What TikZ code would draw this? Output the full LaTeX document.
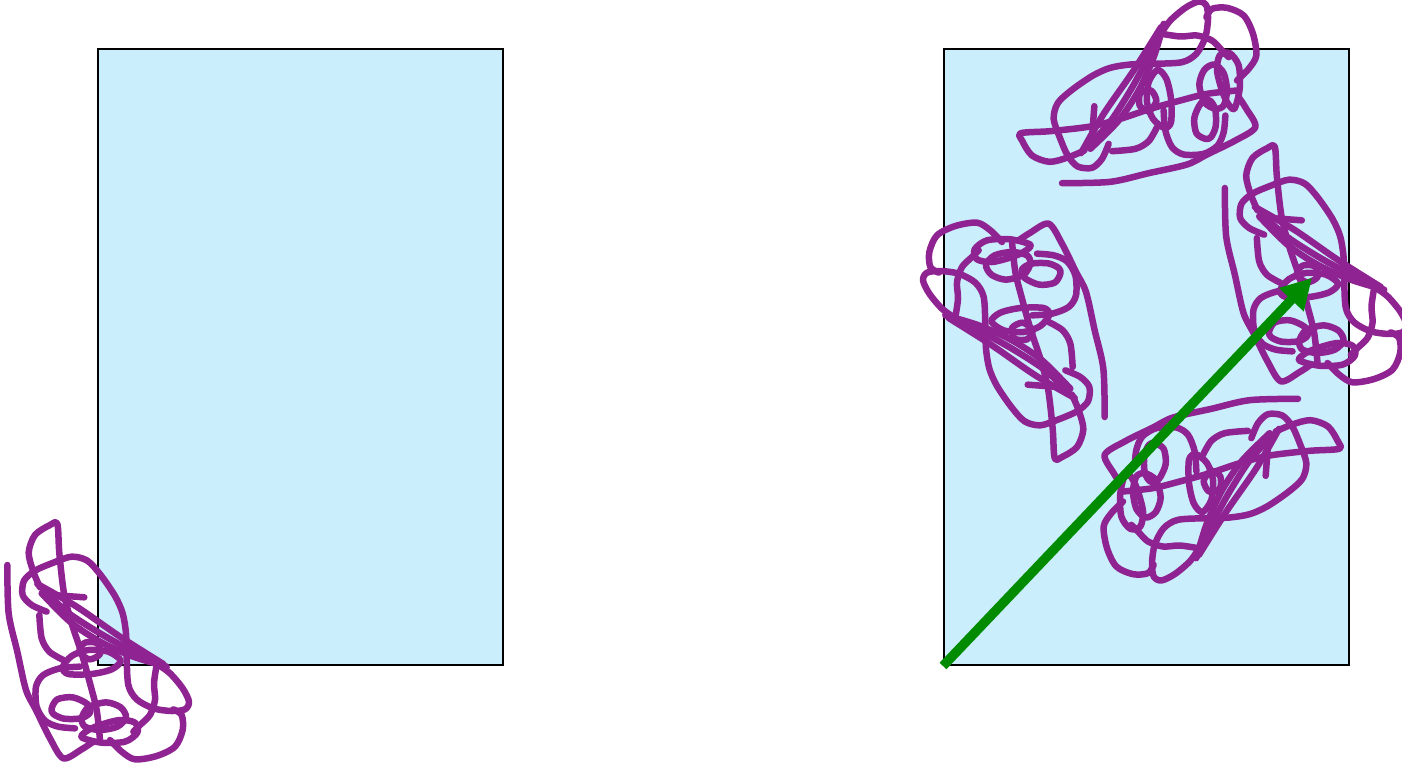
\documentclass[tikz,border=0pt]{standalone}
\usetikzlibrary{arrows.meta}
\definecolor{boxblue}{RGB}{203,238,252}
\definecolor{scribblecol}{RGB}{142,35,145}
\definecolor{arrowgreen}{RGB}{0,139,0}
\tikzset{
  panel/.style={draw=black, line width=2pt, fill=boxblue, rectangle, inner sep=0pt,
    minimum width=405pt, minimum height=616pt, anchor=north west},
  scribline/.style={draw=scribblecol, line width=6.5pt, line cap=round, line join=round},
  vec/.style={draw=arrowgreen, line width=9.5pt, -{Triangle[length=30pt,width=32pt]}},
}
\newcommand{\scribbleat}[3]{%
  \begin{scope}[shift={(#1,#2)}, rotate=#3]
  \begin{scope}[shift={(-98.5pt,130pt)}, x=0.33333pt, y=-0.33333pt]
    \draw[scribline] plot[smooth] coordinates {(22,165) (26,310) (52,425) (78,540) (108,600) (150,685) (190,745) (245,718) (280,695)};
    \draw[scribline] plot[smooth] coordinates {(120,232) (100,185) (86,128) (105,75) (150,45) (172,42) (178,130) (192,250) (215,340) (245,430) (270,520) (290,600) (300,690)};
    \draw[scribline] plot[smooth] coordinates {(140,305) (95,285) (68,255) (72,212) (105,182) (160,158) (215,140) (262,152) (302,195) (345,258) (368,310) (378,370) (380,440) (385,525) (410,568) (460,595) (515,603) (555,598) (567,575) (548,535) (510,490) (470,462) (400,425) (300,370) (200,305) (125,232)};
    \draw[scribline] plot[smooth] coordinates {(112,222) (230,290) (360,380) (490,462)};
    \draw[scribline] plot[smooth] coordinates {(125,250) (210,335) (300,395) (400,440) (500,470)};
    \draw[scribline] (172,256) -- (253,262);
    \draw[scribline] plot[smooth cycle] coordinates {(188,472) (215,438) (265,420) (325,425) (362,452) (335,478) (275,492) (205,492)};
    \draw[scribline] plot[smooth cycle] coordinates {(238,425) (255,398) (292,400) (300,432) (268,448)};
    \draw[scribline] plot[smooth] coordinates {(118,315) (125,385) (148,425) (190,450)};
    \draw[scribline] plot[smooth] coordinates {(240,470) (180,475) (130,495) (108,530) (110,590) (135,632) (175,650) (225,655)};
    \draw[scribline] plot[smooth cycle] coordinates {(155,595) (172,568) (218,562) (262,582) (270,608) (242,625) (192,626) (160,612)};
    \draw[scribline] plot[smooth cycle] coordinates {(245,625) (265,592) (318,577) (362,592) (378,622) (352,650) (300,660) (255,650)};
    \draw[scribline] plot[smooth cycle] coordinates {(245,682) (305,698) (375,695) (412,668) (405,638) (360,630) (300,645) (262,662)};
    \draw[scribline] plot[smooth] coordinates {(330,690) (365,725) (405,748) (470,738) (525,710) (548,660) (545,615) (520,598)};
    \draw[scribline] plot[smooth] coordinates {(470,465) (462,520) (465,570) (450,615) (420,645) (400,665)};
  \end{scope}
  \end{scope}}
\begin{document}
\begin{tikzpicture}[x=1pt, y=-1pt]
  \useasboundingbox (0,0) rectangle (1402,765);
  \node[panel] (L) at (97,48) {};
  \node[panel] (R) at (943,48) {};
  \scribbleat{98.5}{640}{0}
  \scribbleat{1316}{263}{0}
  \scribbleat{1013.5}{342}{180}
  \scribbleat{1137}{92}{90}
  \scribbleat{1223}{490}{-90}
  \coordinate (tip) at (1312,278);
  \draw[vec] (R.south west) -- (tip);
\end{tikzpicture}
\end{document}
